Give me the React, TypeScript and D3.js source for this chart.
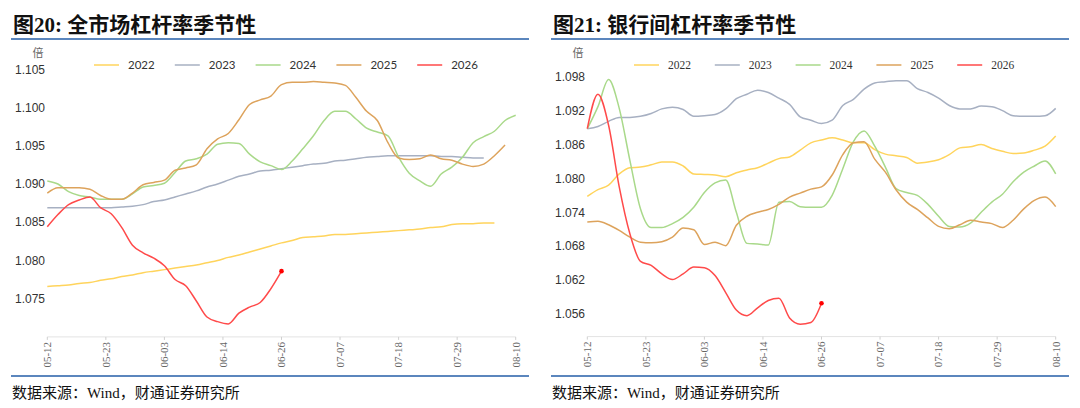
import React from "react";
import * as d3 from "d3";

// category labels on the x axis (one every 11 trading days)
const dateTicks = ["05-12", "05-23", "06-03", "06-14", "06-26", "07-07", "07-18", "07-29", "08-10"];
const years = ["2022", "2023", "2024", "2025", "2026"];
const yearColors = ["#ffd45c", "#a7b0c2", "#a9d98a", "#dda35c", "#ff4a4a"];
const STEP = 2; // samples are read every 2 categories
const TICK_EVERY = 11;
const LAST_INDEX = 88;

// 图20 全市场杠杆率
const market2022 = [1.0766, 1.0767, 1.0768, 1.0770, 1.0771, 1.0774, 1.0776, 1.0779, 1.0781, 1.0784, 1.0786, 1.0788,
  1.0790, 1.0792, 1.0794, 1.0797, 1.0800, 1.0804, 1.0807, 1.0811, 1.0815, 1.0819, 1.0823, 1.0826, 1.0830, 1.0831,
  1.0832, 1.0834, 1.0834, 1.0835, 1.0836, 1.0837, 1.0838, 1.0839, 1.0840, 1.0841, 1.0843, 1.0844, 1.0847, 1.0848,
  1.0848, 1.0849, 1.0849];
const market2023 = [1.0869, 1.0869, 1.0869, 1.0869, 1.0869, 1.0869, 1.0869, 1.0870, 1.0871, 1.0873, 1.0877, 1.0879,
  1.0883, 1.0887, 1.0891, 1.0896, 1.0900, 1.0905, 1.0910, 1.0913, 1.0917, 1.0918, 1.0920, 1.0922, 1.0924, 1.0926,
  1.0927, 1.0930, 1.0931, 1.0933, 1.0935, 1.0936, 1.0937, 1.0937, 1.0937, 1.0937, 1.0937, 1.0936, 1.0936, 1.0935,
  1.0934, 1.0934];
const market2024 = [1.0904, 1.0900, 1.0890, 1.0885, 1.0883, 1.0880, 1.0880, 1.0880, 1.0887, 1.0896, 1.0898, 1.0901,
  1.0915, 1.0930, 1.0933, 1.0939, 1.0952, 1.0954, 1.0953, 1.0939, 1.0929, 1.0924, 1.0919, 1.0930, 1.0946, 1.0963,
  1.0983, 1.0995, 1.0995, 1.0985, 1.0973, 1.0968, 1.0963, 1.0935, 1.0914, 1.0904, 1.0897, 1.0913, 1.0922, 1.0935,
  1.0954, 1.0962, 1.0969, 1.0983, 1.0990];
const market2025 = [1.0888, 1.0895, 1.0895, 1.0895, 1.0893, 1.0885, 1.0880, 1.0880, 1.0888, 1.0899, 1.0902, 1.0905,
  1.0918, 1.0921, 1.0925, 1.0946, 1.0959, 1.0966, 1.0984, 1.1004, 1.1010, 1.1015, 1.1030, 1.1033, 1.1033, 1.1034,
  1.1033, 1.1032, 1.1029, 1.1013, 1.0995, 1.0983, 1.0954, 1.0934, 1.0932, 1.0933, 1.0938, 1.0933, 1.0931, 1.0926,
  1.0923, 1.0926, 1.0937, 1.0951];
const market2026 = [1.0844, 1.0860, 1.0873, 1.0879, 1.0883, 1.0869, 1.0861, 1.0843, 1.0820, 1.0810, 1.0803, 1.0793,
  1.0775, 1.0767, 1.0747, 1.0726, 1.0720, 1.0717, 1.0731, 1.0739, 1.0745, 1.0763, 1.0786];
const marketYTicks = [1.075, 1.08, 1.085, 1.09, 1.095, 1.1, 1.105];

// 图21 银行间杠杆率
const interbank2022 = [1.0768, 1.0780, 1.0788, 1.0808, 1.0819, 1.0820, 1.0824, 1.0829, 1.0829, 1.0822, 1.0808, 1.0807,
  1.0806, 1.0803, 1.0810, 1.0815, 1.0819, 1.0827, 1.0835, 1.0838, 1.0850, 1.0863, 1.0868, 1.0872, 1.0868, 1.0863,
  1.0863, 1.0851, 1.0843, 1.0840, 1.0837, 1.0827, 1.0829, 1.0833, 1.0842, 1.0854, 1.0856, 1.0860, 1.0853, 1.0848,
  1.0844, 1.0845, 1.0850, 1.0857, 1.0875];
const interbank2023 = [1.0888, 1.0892, 1.0901, 1.0908, 1.0908, 1.0910, 1.0915, 1.0923, 1.0926, 1.0922, 1.0910, 1.0911,
  1.0913, 1.0923, 1.0941, 1.0949, 1.0956, 1.0952, 1.0942, 1.0931, 1.0909, 1.0903, 1.0897, 1.0903, 1.0929, 1.0940,
  1.0958, 1.0969, 1.0971, 1.0973, 1.0973, 1.0959, 1.0952, 1.0942, 1.0929, 1.0923, 1.0923, 1.0928, 1.0927, 1.0920,
  1.0911, 1.0910, 1.0910, 1.0911, 1.0924];
const interbank2024 = [1.0888, 1.0927, 1.0975, 1.0924, 1.0832, 1.0746, 1.0713, 1.0713, 1.0720, 1.0731, 1.0749, 1.0775,
  1.0792, 1.0797, 1.0740, 1.0685, 1.0684, 1.0682, 1.0758, 1.0759, 1.0750, 1.0749, 1.0749, 1.0770, 1.0817, 1.0865,
  1.0884, 1.0857, 1.0820, 1.0782, 1.0775, 1.0770, 1.0754, 1.0733, 1.0715, 1.0714, 1.0721, 1.0740, 1.0758, 1.0772,
  1.0794, 1.0811, 1.0822, 1.0831, 1.0808];
const interbank2025 = [1.0723, 1.0724, 1.0718, 1.0708, 1.0696, 1.0687, 1.0686, 1.0688, 1.0696, 1.0712, 1.0709, 1.0683,
  1.0687, 1.0681, 1.0717, 1.0733, 1.0740, 1.0745, 1.0754, 1.0767, 1.0774, 1.0781, 1.0785, 1.0806, 1.0842, 1.0863,
  1.0865, 1.0834, 1.0811, 1.0780, 1.0758, 1.0745, 1.0730, 1.0715, 1.0711, 1.0718, 1.0726, 1.0723, 1.0720, 1.0713,
  1.0726, 1.0746, 1.0761, 1.0767, 1.0750];
const interbank2026 = [1.0888, 1.0949, 1.0894, 1.0785, 1.0702, 1.0653, 1.0646, 1.0631, 1.0621, 1.0631, 1.0643, 1.0642,
  1.0628, 1.0598, 1.0567, 1.0557, 1.0571, 1.0584, 1.0588, 1.0553, 1.0542, 1.0545, 1.0579];
const interbankYTicks = [1.056, 1.062, 1.068, 1.074, 1.08, 1.086, 1.092, 1.098];

const serif = "'Liberation Serif', 'Times New Roman', 'Noto Sans CJK SC', serif";
const sans = "'Liberation Sans', Arial, sans-serif";

function Panel({ ox, title, series, yDomain, yRange, yTicks, legendFont }) {
  const x = d3.scaleLinear().domain([0, LAST_INDEX]).range([ox + 47.3, ox + 515.7]);
  const y = d3.scaleLinear().domain(yDomain).range(yRange);
  const fmt = d3.format(".3f");
  const line = d3.line().x((d, i) => x(i * STEP)).y(d => y(d)).curve(d3.curveMonotoneX);
  const last = series[series.length - 1];
  const baseY = yRange[0];

  return (
    <g>
      <text x={ox + 13} y={32} fontFamily={serif} fontWeight="bold" fontSize={21} fill="#111">{title}</text>
      <line x1={ox + 11} x2={ox + 529} y1={39} y2={39} stroke="#5b86bd" strokeWidth={2} />

      <text x={ox + 38} y={57} textAnchor="middle" fontFamily="'Noto Sans CJK SC'" fontSize={11} fill="#666">倍</text>
      {yTicks.map(t => (
        <text key={t} x={ox + 45} y={y(t)} dy="0.35em" textAnchor="end" fontFamily={sans} fontSize={12} fill="#333">
          {fmt(t)}
        </text>
      ))}

      {/* legend */}
      {years.map((yr, i) => (
        <g key={yr} transform={`translate(${ox + 94 + i * 80.8},65)`}>
          <line x1={0} x2={25} stroke={yearColors[i]} strokeWidth={1.5} />
          <text x={34} dy="0.35em" fontFamily={legendFont} fontSize={11.5} fill="#333">{yr}</text>
        </g>
      ))}

      {/* x axis */}
      <line x1={x(0)} x2={x(LAST_INDEX)} y1={baseY} y2={baseY} stroke="#e3e3e3" />
      {dateTicks.map((lbl, i) => (
        <g key={lbl} transform={`translate(${x(i * TICK_EVERY)},${baseY})`}>
          <line y1={0} y2={3} stroke="#cfcfcf" />
          <text transform="translate(0,5) rotate(-90)" dy="0.35em" textAnchor="end"
            fontFamily={serif} fontSize={11} fill="#666">{lbl}</text>
        </g>
      ))}

      {series.map((s, i) => (
        <path key={years[i]} d={line(s)} fill="none" stroke={yearColors[i]} strokeWidth={1.5} />
      ))}
      <circle cx={x((last.length - 1) * STEP)} cy={y(last[last.length - 1])} r={2.3} fill="#ff0000" />

      <line x1={ox + 11} x2={ox + 529} y1={376} y2={376} stroke="#5b86bd" strokeWidth={2} />
      <text x={ox + 12} y={398} fontFamily={serif} fontSize={15} fill="#111">数据来源：Wind，财通证券研究所</text>
    </g>
  );
}

export default function App() {
  return (
    <svg width={1080} height={408} style={{ position: "absolute", left: 0, top: 0, background: "#fff" }}>
      <Panel ox={0} title="图20: 全市场杠杆率季节性"
        series={[market2022, market2023, market2024, market2025, market2026]}
        yDomain={[1.07, 1.105]} yRange={[336.9, 69.3]} yTicks={marketYTicks}
        legendFont="Lato, 'Liberation Sans', sans-serif" />
      <Panel ox={540} title="图21: 银行间杠杆率季节性"
        series={[interbank2022, interbank2023, interbank2024, interbank2025, interbank2026]}
        yDomain={[1.052, 1.098]} yRange={[336.6, 76.7]} yTicks={interbankYTicks}
        legendFont={serif} />
    </svg>
  );
}
